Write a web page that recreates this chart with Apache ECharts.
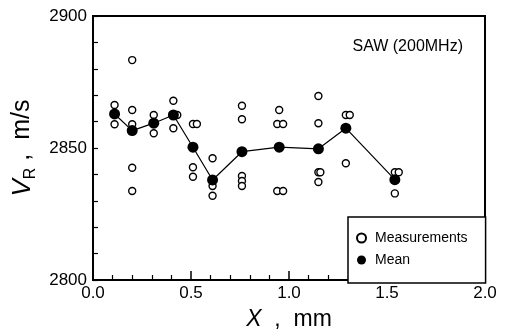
<!DOCTYPE html>
<html>
<head>
<meta charset="utf-8">
<script src="https://cdn.jsdelivr.net/npm/echarts@6/dist/echarts.min.js"></script>
<style>
	html, body { margin: 0; padding: 0; background: #fff; }
	#chart { width: 505px; height: 336px; }
</style>
</head>
<body>
<div id="chart"></div>
<script>
const measurements = [
	[0.11, 2866.3], [0.11, 2859.0],
	[0.20, 2883.3], [0.20, 2864.4], [0.20, 2859.0], [0.20, 2842.5], [0.20, 2833.7],
	[0.31, 2862.5], [0.31, 2855.6],
	[0.41, 2867.9], [0.43, 2862.5], [0.41, 2857.5],
	[0.51, 2859.1], [0.53, 2859.1], [0.51, 2842.7], [0.51, 2839.1],
	[0.61, 2846.1], [0.61, 2835.6], [0.61, 2831.9],
	[0.76, 2866.0], [0.76, 2860.9], [0.76, 2839.4], [0.76, 2837.5], [0.76, 2835.6],
	[0.95, 2864.4], [0.94, 2859.1], [0.97, 2859.1], [0.94, 2833.7], [0.97, 2833.7],
	[1.15, 2869.7], [1.15, 2859.4], [1.15, 2840.8], [1.16, 2840.8], [1.15, 2837.1],
	[1.29, 2862.5], [1.31, 2862.5], [1.29, 2844.2],
	[1.54, 2840.8], [1.56, 2840.8], [1.54, 2832.8]
];

/* Mean values per position */
const meanX = [0.11, 0.20, 0.31, 0.41, 0.51, 0.61, 0.76, 0.95, 1.15, 1.29, 1.54];
const meanY = [2862.9, 2856.6, 2859.4, 2862.5, 2850.3, 2837.9, 2848.6, 2850.3, 2849.7, 2857.5, 2838.0];

const seriesNames = ["Measurements", "Mean"];
const titleText = "SAW (200MHz)";

const FONT = "Liberation Sans";

const axisLineStyle = () => ({
	type: "solid",
	width: 2,
	color: "#000",
});

const option = {
	animation: false,
	backgroundColor: "#fff",
	textStyle: { fontFamily: FONT, color: "#000" },
	title: {
		text: titleText,
		right: 37,
		top: 34,
		textStyle: {
			fontFamily: FONT,
			fontSize: 16,
			fontWeight: "normal",
			color: "#000",
		},
	},
	grid: {
		left: 93,
		right: 20,
		top: 16,
		bottom: 56,
		show: true,
		borderColor: "#000",
		borderWidth: 2,
	},
	legend: {
		data: [
			{ name: seriesNames[0], icon: "circle" },
			{ name: seriesNames[1], icon: "circle" },
		],
		orient: "vertical",
		left: 348,
		top: 217,
		padding: [14, 18, 16, 8],
		itemGap: 8,
		itemWidth: 9,
		itemHeight: 9,
		borderColor: "#000",
		borderWidth: 1.5,
		backgroundColor: "#fff",
		textStyle: { fontFamily: FONT, fontSize: 14, color: "#000", padding: [0, 0, 0, 4] },
	},
	xAxis: {
		type: "value",
		min: 0,
		max: 2,
		interval: 0.5,
		name: "{i|X}{n|  ,  mm}",
		nameLocation: "middle",
		nameGap: 28,
		nameTextStyle: {
			rich: {
				i: { fontFamily: FONT, fontSize: 23, fontStyle: "italic", color: "#000" },
				n: { fontFamily: FONT, fontSize: 23, color: "#000" },
			},
		},
		axisLine: { onZero: false, lineStyle: axisLineStyle() },
		axisTick: { show: true, inside: true, length: 9, lineStyle: { width: 1.5, color: "#000" } },
		minorTick: { show: true, splitNumber: 5, length: 5, lineStyle: { width: 1.2, color: "#000" } },
		splitLine: { show: false },
		axisLabel: {
			fontFamily: FONT,
			fontSize: 17,
			color: "#000",
			margin: 5,
			formatter: (v) => v.toFixed(1),
		},
	},
	yAxis: {
		type: "value",
		min: 2800,
		max: 2900,
		interval: 50,
		name: "{v|V}{r|R}{n| ,  m/s}",
		nameLocation: "middle",
		nameGap: 52,
		nameTextStyle: {
			rich: {
				v: { fontFamily: FONT, fontSize: 26, fontStyle: "italic", color: "#000", verticalAlign: "top" },
				r: { fontFamily: FONT, fontSize: 16, color: "#000", verticalAlign: "top", padding: [13, 0, 0, 0] },
				n: { fontFamily: FONT, fontSize: 25, color: "#000", verticalAlign: "top" },
			},
		},
		axisLine: { onZero: false, lineStyle: axisLineStyle() },
		axisTick: { show: true, inside: true, length: 5, lineStyle: { width: 1.2, color: "#000" } },
		minorTick: { show: true, splitNumber: 5, length: 5, lineStyle: { width: 1.2, color: "#000" } },
		splitLine: { show: false },
		axisLabel: {
			fontFamily: FONT,
			fontSize: 17,
			color: "#000",
			margin: 6,
			formatter: (v) => String(v),
		},
	},
	series: [
		{
			name: seriesNames[0],
			type: "scatter",
			symbol: "circle",
			symbolSize: 7,
			z: 2,
			itemStyle: {
				color: "#fff",
				borderColor: "#000",
				borderWidth: 1.4,
				opacity: 1,
			},
			data: measurements,
		},
		{
			name: seriesNames[1],
			type: "line",
			symbol: "circle",
			symbolSize: 11,
			z: 3,
			itemStyle: { color: "#000" },
			lineStyle: { color: "#000", width: 1.2 },
			data: meanX.map((x, i) => [x, meanY[i]]),
		},
	],
};

const myChart = echarts.init(document.getElementById("chart"), null, { renderer: "canvas" });
myChart.setOption(option);
</script>
</body>
</html>
